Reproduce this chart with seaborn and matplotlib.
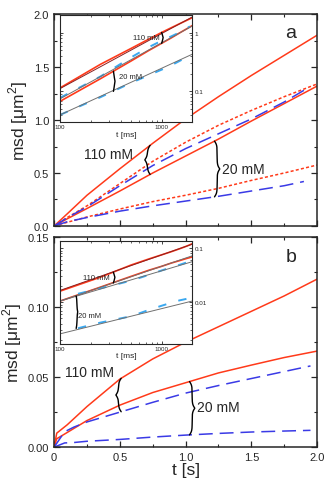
import numpy as np
import pandas as pd
import seaborn as sns
import matplotlib
matplotlib.use('Agg')
import matplotlib.pyplot as plt
from matplotlib.ticker import MultipleLocator, LogLocator, NullFormatter

## values (t in s, msd in um^2)
t_a = [0, 0.1, 0.25, 0.5, 0.75, 1.0, 1.25, 1.5, 1.75, 2.0]
a_110_solid = [0, 0.115, 0.29, 0.54, 0.78, 1.01, 1.22, 1.42, 1.61, 1.80]
a_110_dot = [0, 0.08, 0.19, 0.40, 0.61, 0.79, 0.95, 1.09, 1.22, 1.34]
a_20_solid = [0, 0.068, 0.165, 0.33, 0.50, 0.66, 0.82, 0.99, 1.155, 1.32]
a_20_dot = [0, 0.035, 0.085, 0.16, 0.23, 0.29, 0.355, 0.43, 0.50, 0.575]
t_a_blue = [0, 0.1, 0.25, 0.5, 0.75, 1.0, 1.25, 1.5, 1.75, 1.9]
a_110_blue = [0, 0.078, 0.18, 0.38, 0.57, 0.73, 0.87, 1.01, 1.17, 1.28]
a_20_blue = [0, 0.04, 0.08, 0.14, 0.19, 0.235, 0.28, 0.33, 0.38, 0.42]

t_b = [0, 0.02, 0.1, 0.25, 0.5, 0.75, 1.0, 1.25, 1.5, 1.75, 2.0]
b_110_solid = [0, 0.010, 0.016, 0.029, 0.0486, 0.063, 0.075, 0.086, 0.097, 0.108, 0.12]
b_20_solid = [0, 0.006, 0.0105, 0.019, 0.030, 0.039, 0.046, 0.053, 0.0586, 0.064, 0.0686]
t_b_blue = [0, 0.08, 0.15, 0.25, 0.5, 0.75, 1.0, 1.25, 1.5, 1.75, 1.95]
b_110_blue = [0, 0.011, 0.0143, 0.018, 0.025, 0.032, 0.0386, 0.044, 0.049, 0.054, 0.058]
b_20_blue = [0, 0.003, 0.0033, 0.0042, 0.0055, 0.0072, 0.0086, 0.0098, 0.0108, 0.0115, 0.012]

# straight fits drawn in the log-log insets (end points at 100 ms and 2000 ms)
fit_t = [100, 2000]
fit_a_110 = [0.112, 1.85]
fit_a_mid = [0.075, 1.30]
fit_a_low = [0.04, 0.43]
fit_b_110 = [0.0165, 0.118]
fit_b_20 = [0.0105, 0.072]
fit_b_mid = [0.0105, 0.056]
fit_b_low = [0.0026, 0.0105]

RED = '#ff3a1a'
BLUE = '#3a3ae6'
LBLUE = '#3aa8f0'
DRED = '#8c1f1f'
GRAY = '#707070'

sns.set_style('ticks')
plt.rcParams['font.family'] = ['Liberation Sans', 'DejaVu Sans']
plt.rcParams['mathtext.fontset'] = 'custom'
plt.rcParams['mathtext.rm'] = 'Liberation Sans'
plt.rcParams['lines.scale_dashes'] = False

fig = plt.figure(figsize=(3.32, 4.85), dpi=100)
ax_a = fig.add_axes([0.163, 0.532, 0.792, 0.437])
ax_b = fig.add_axes([0.163, 0.076, 0.792, 0.433])
in_a = fig.add_axes([0.181, 0.746, 0.398, 0.221])
in_b = fig.add_axes([0.181, 0.289, 0.398, 0.212])

DOT = (0, (2.2, 1.6))
DASH = (0, (10, 5))


def line(ax, x, y, color, ls='-', lw=1.1):
    sns.lineplot(x=x, y=y, ax=ax, color=color, linestyle=ls, linewidth=lw,
                 sort=False, estimator=None)


def brace(ax, x, y0, y1, w):
    # curly brace between (x,y0) and (x,y1); w in axes fraction, sign gives tip side
    to_ax = ax.transData + ax.transAxes.inverted()
    (xa, ya0), (_, ya1) = to_ax.transform([(x, y0), (x, y1)])
    half_px = abs(ya1 - ya0) / 2 * ax.bbox.height
    k = max(half_px / 2.0, 4)
    u = np.linspace(0, 1, 80)
    h = 1 / (1 + np.exp(-k * u)) + 1 / (1 + np.exp(-k * (u - 1))) - 0.5
    h = (h - h[0]) / (h[-1] - h[0])
    ym = (ya0 + ya1) / 2
    ys = np.concatenate([ya0 + (ym - ya0) * u, ym + (ya1 - ym) * u])
    xs = np.concatenate([xa + w * h, xa + w * h[::-1]])
    ax.plot(xs, ys, color='black', lw=1.0, transform=ax.transAxes)


## Panel a
line(ax_a, t_a, a_110_solid, RED)
line(ax_a, t_a, a_20_solid, RED)
line(ax_a, t_a, a_110_dot, RED, DOT)
line(ax_a, t_a, a_20_dot, RED, DOT)
line(ax_a, t_a_blue, a_110_blue, BLUE, DASH)
line(ax_a, t_a_blue, a_20_blue, BLUE, DASH)
ax_a.set_xlim(0, 2.0)
ax_a.set_ylim(0, 2.0)
ax_a.yaxis.set_major_locator(MultipleLocator(0.5))
ax_a.yaxis.set_minor_locator(MultipleLocator(0.25))
ax_a.xaxis.set_major_locator(MultipleLocator(0.5))
ax_a.xaxis.set_minor_locator(MultipleLocator(0.25))
ax_a.yaxis.set_major_formatter(matplotlib.ticker.FormatStrFormatter('%.1f'))
ax_a.tick_params(labelbottom=False)
ax_a.text(0.90, 0.915, 'a', transform=ax_a.transAxes, fontsize=14, ha='center', va='center')
ax_a.text(0.41, 0.68, '110 mM', fontsize=10, ha='center', va='center')
ax_a.text(1.28, 0.54, '20 mM', fontsize=10, ha='left', va='center')

## Panel b
line(ax_b, t_b, b_110_solid, RED)
line(ax_b, t_b, b_20_solid, RED)
line(ax_b, t_b_blue, b_110_blue, BLUE, DASH)
line(ax_b, t_b_blue, b_20_blue, BLUE, DASH)
ax_b.set_xlim(0, 2.0)
ax_b.set_ylim(0, 0.15)
ax_b.yaxis.set_major_locator(MultipleLocator(0.05))
ax_b.yaxis.set_minor_locator(MultipleLocator(0.025))
ax_b.xaxis.set_major_locator(MultipleLocator(0.5))
ax_b.xaxis.set_minor_locator(MultipleLocator(0.25))
ax_b.set_yticks([0, 0.05, 0.10, 0.15], ['0.00', '0.05', '0.10', '0.15'])
ax_b.set_xticks([0, 0.5, 1.0, 1.5, 2.0], ['0', '0.5', '1.0', '1.5', '2.0'])
ax_b.set_xlabel('t [s]', fontsize=12.5, labelpad=0)
ax_b.text(0.90, 0.91, 'b', transform=ax_b.transAxes, fontsize=14, ha='center', va='center')
ax_b.text(0.27, 0.0536, '110 mM', fontsize=10, ha='center', va='center')
ax_b.text(1.09, 0.029, '20 mM', fontsize=10, ha='left', va='center')

for ax in (ax_a, ax_b):
    ax.set_ylabel('msd [μm$^{2}$]', fontsize=12.5, labelpad=3)
    ax.tick_params(which='both', direction='in', top=True, right=True, labelsize=8)
    ax.tick_params(which='major', length=4, width=0.9)
    ax.tick_params(which='minor', length=2, width=0.8)
    for s in ax.spines.values():
        s.set_linewidth(1.1)

## Insets (log-log, t in ms)
def inset_series(t, y):
    t = np.asarray(t)
    y = np.asarray(y)
    keep = t >= 0.1
    return t[keep] * 1000, y[keep]

x, y = inset_series(t_a, a_110_solid); line(in_a, x, y, RED, lw=1.2)
x, y = inset_series(t_a, a_20_solid); line(in_a, x, y, RED, lw=1.2)
x, y = inset_series(t_a_blue, a_110_blue); line(in_a, x, y, LBLUE, (0, (6, 9)), lw=1.4)
x, y = inset_series(t_a_blue, a_20_blue); line(in_a, x, y, LBLUE, (0, (6, 9)), lw=1.4)
line(in_a, fit_t, fit_a_110, DRED, lw=0.7)
line(in_a, fit_t, fit_a_mid, GRAY, lw=0.7)
line(in_a, fit_t, fit_a_low, GRAY, lw=0.7)
in_a.set_ylim(0.03, 2.0)

x, y = inset_series(t_b, b_110_solid); line(in_b, x, y, RED, lw=1.2)
x, y = inset_series(t_b, b_20_solid); line(in_b, x, y, RED, lw=1.2)
x, y = inset_series(t_b_blue, b_110_blue); line(in_b, x, y, LBLUE, (0, (6, 9)), lw=1.4)
x, y = inset_series(t_b_blue, b_20_blue); line(in_b, x, y, LBLUE, (0, (6, 9)), lw=1.4)
line(in_b, fit_t, fit_b_110, DRED, lw=0.7)
line(in_b, fit_t, fit_b_20, GRAY, lw=0.7)
line(in_b, fit_t, fit_b_mid, GRAY, lw=0.7)
line(in_b, fit_t, fit_b_low, GRAY, lw=0.7)
in_b.set_ylim(0.0017, 0.135)

for ax, ylabs in ((in_a, ([0.1, 1], ['0.1', '1'])), (in_b, ([0.01, 0.1], ['0.01', '0.1']))):
    ax.set_xscale('log')
    ax.set_yscale('log')
    ax.set_xlim(100, 2000)
    ax.set_facecolor('white')
    ax.set_xticks([100, 1000], ['100', '1000'])
    ax.set_yticks(ylabs[0], ylabs[1])
    ax.xaxis.set_minor_locator(LogLocator(subs=np.arange(2, 10)))
    ax.yaxis.set_minor_locator(LogLocator(subs=np.arange(2, 10)))
    ax.xaxis.set_minor_formatter(NullFormatter())
    ax.yaxis.set_minor_formatter(NullFormatter())
    ax.tick_params(which='both', direction='in', top=True, right=True, left=True,
                   labelleft=False, labelright=True, labelsize=4.5, pad=1.5)
    ax.tick_params(which='major', length=2.5, width=0.6)
    ax.tick_params(which='minor', length=1.3, width=0.5)
    ax.set_xlabel('t [ms]', fontsize=6, labelpad=1)
    ax.set_ylabel('')
    for s in ax.spines.values():
        s.set_linewidth(0.8)

in_a.text(520, 0.82, '110 mM', fontsize=5.5, ha='left', va='center')
in_a.text(380, 0.18, '20 mM', fontsize=5.5, ha='left', va='center')
in_b.text(170, 0.028, '110 mM', fontsize=5.5, ha='left', va='center')
in_b.text(150, 0.0057, '20 mM', fontsize=5.5, ha='left', va='center')

## braces, ends taken from the curves
brace(ax_a, 0.73, np.interp(0.73, t_a, a_20_solid), np.interp(0.73, t_a, a_110_solid), -0.02)
brace(ax_a, 1.22, np.interp(1.22, t_a_blue, a_20_blue), np.interp(1.22, t_a, a_20_solid), 0.02)
brace(ax_b, 0.51, np.interp(0.51, t_b_blue, b_110_blue), np.interp(0.51, t_b, b_110_solid), -0.02)
brace(ax_b, 1.03, np.interp(1.03, t_b_blue, b_20_blue), np.interp(1.03, t_b, b_20_solid), 0.02)
brace(in_a, 1000, np.interp(1.0, t_a, a_20_solid), np.interp(1.0, t_a, a_110_solid), 0.012)
brace(in_a, 335, np.interp(0.335, t_a_blue, a_20_blue), np.interp(0.335, t_a, a_20_solid), 0.012)
brace(in_b, 335, np.interp(0.335, t_b, b_20_solid), np.interp(0.335, t_b, b_110_solid), 0.012)
brace(in_b, 144, np.interp(0.144, t_b_blue, b_20_blue), np.interp(0.144, t_b, b_20_solid), 0.012)

fig.savefig('out.png', dpi=100)
